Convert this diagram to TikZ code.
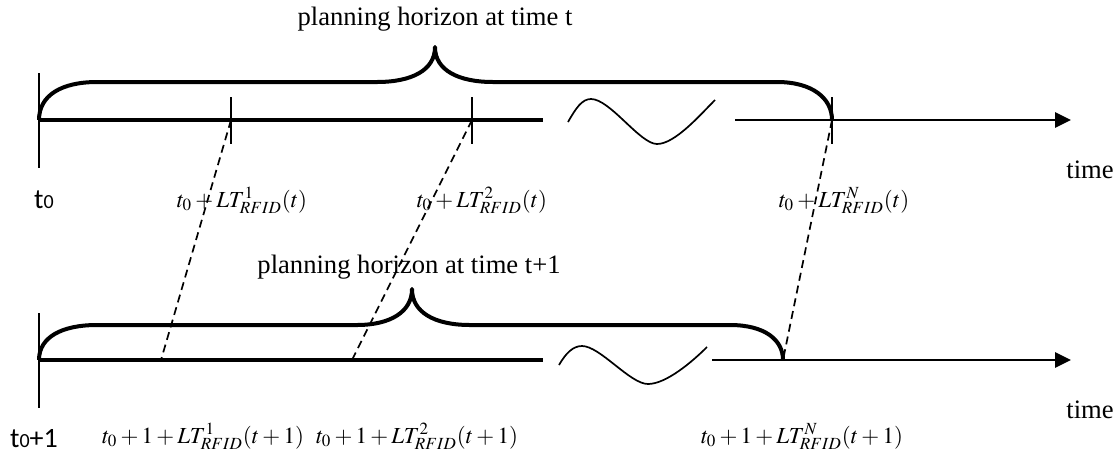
\documentclass[tikz,border=0pt]{standalone}
\usepackage{mathptmx}
\usepackage[no-math]{fontspec}
\setmainfont{Liberation Serif}
\newfontfamily\calfont{Carlito}
\usetikzlibrary{arrows.meta}

\begin{document}
\begin{tikzpicture}[
    x=0.5pt, y=-0.5pt,
    axis/.style={line width=1.6pt},
    axisarrow/.style={line width=1.4pt, -{Triangle[length=8pt,width=7.5pt]}},
    tickmark/.style={line width=0.85pt},
    horizon/.style={line width=2pt, line join=round},
    wave/.style={line width=0.85pt},
    leadline/.style={line width=0.85pt, dash pattern=on 4pt off 2.5pt},
    title/.style={anchor=base, inner sep=0pt, font=\fontsize{13.3}{16}\selectfont},
    mathlbl/.style={anchor=base, inner sep=0pt, font=\fontsize{11.5}{14}\selectfont},
    startlbl/.style={anchor=base, inner sep=0pt, font=\calfont\fontsize{14}{16}\selectfont}
]
\useasboundingbox (0,0) rectangle (1118,456);

% time t
\coordinate (t0) at (39,120);
\coordinate (t1) at (231,120);
\coordinate (t2) at (472,120);
\coordinate (tN) at (832,120);
\coordinate (tgap) at (543,120);
\coordinate (tcont) at (735,120);
\coordinate (tend) at (1071,120);

% time t+1
\coordinate (s0) at (39,360);
\coordinate (s1) at (161,360);
\coordinate (s2) at (352,360);
\coordinate (sN) at (783,360);
\coordinate (sgap) at (543,360);
\coordinate (scont) at (712,360);
\coordinate (send) at (1071,360);

% axes
\draw[axis] (t0) -- (tgap);
\draw[axisarrow] (tcont) -- (tend);
\draw[axis] (s0) -- (sgap);
\draw[axisarrow] (scont) -- (send);

% breaks
\draw[wave] (568,122) .. controls (576,108) and (582,99) .. (591,99)
    .. controls (610,99) and (640,144) .. (657,144)
    .. controls (675,144) and (700,115) .. (715,100);
\draw[wave] (559,365) .. controls (566,353) and (573,346) .. (582,346)
    .. controls (600,346) and (630,384) .. (648,384)
    .. controls (666,384) and (692,362) .. (707,347);

% ticks
\draw[tickmark] (t0) ++(0,-47) -- ++(0,95);
\draw[tickmark] (t1) ++(0,-23) -- ++(0,47);
\draw[tickmark] (t2) ++(0,-23) -- ++(0,47);
\draw[tickmark] (tN) ++(0,-23) -- ++(0,47);
\draw[tickmark] (s0) ++(0,-47) -- ++(0,95);

% planning horizons
\draw[horizon] (t0) .. controls (39,95) and (62,82) .. (97,82) -- (377,82)
    .. controls (412,82) and (435,70) .. (435,47)
    .. controls (435,70) and (458,82) .. (493,82) -- (777,82)
    .. controls (812,82) and (832,98) .. (tN);
\draw[horizon] (s0) .. controls (39,337) and (62,325) .. (97,325) -- (357,325)
    .. controls (390,325) and (412,312) .. (412,289)
    .. controls (412,312) and (434,325) .. (470,325) -- (730,325)
    .. controls (765,325) and (783,340) .. (sN);

% shifted lead times
\draw[leadline] (t1) -- (s1);
\draw[leadline] (t2) -- (s2);
\draw[leadline] (tN) -- (sN);

% labels
\node[title] (h1) at (435,25) {planning horizon at time t};
\node[title] (h2) at (409,273) {planning horizon at time t+1};
\node[title] (time1) at (1090,178) {time};
\node[title] (time2) at (1090,418) {time};

\node[startlbl] (l0) at (44,208) {t{\fontsize{10}{12}\selectfont 0}};
\node[mathlbl] (l1) at (242,207) {$t_0 + LT^{1}_{RFID}(t)$};
\node[mathlbl] (l2) at (482,207) {$t_0 + LT^{2}_{RFID}(t)$};
\node[mathlbl] (lN) at (844,207) {$t_0 + LT^{N}_{RFID}(t)$};

\node[startlbl] (m0) at (34,447) {t{\fontsize{10}{12}\selectfont 0}+1};
\node[mathlbl] (m1) at (203,443) {$t_0 + 1 + LT^{1}_{RFID}(t+1)$};
\node[mathlbl] (m2) at (417,443) {$t_0 + 1 + LT^{2}_{RFID}(t+1)$};
\node[mathlbl] (mN) at (802,443) {$t_0 + 1 + LT^{N}_{RFID}(t+1)$};
\end{tikzpicture}
\end{document}
